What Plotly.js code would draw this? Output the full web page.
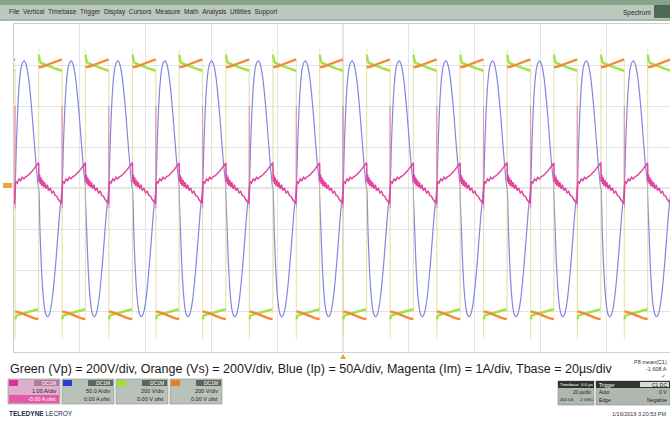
<!DOCTYPE html>
<html><head><meta charset="utf-8">
<script src="https://cdn.plot.ly/plotly-3.0.1.min.js"></script>
<style>html,body{margin:0;padding:0;background:#fff;}#chart{width:670px;height:427px;}</style>
</head><body><div id="chart"></div>
<script>
// ---- data read from the screen (time in µs) ----
// start of each switching cycle (rising edge of Vp/Vs)
const cycleStarts = [-106.8,-92.5,-78.3,-64.0,-49.8,-35.6,-21.3,-7.1,7.2,21.4,35.6,49.9,64.1,78.4,92.6];
const downEdge = 7.12;   // falling edge offset inside a cycle

// Blue: primary current Ip (A), one cycle
const ipT = [0,0.4,0.8,1.3,1.8,2.3,2.8,3.4,4.0,4.6,5.2,5.8,6.4,7.12,7.52,7.92,8.42,8.92,9.42,9.92,10.52,11.12,11.72,12.32,12.92,13.52,14.24];
const ipA = [0,-52,-94,-128,-147,-155,-157,-152,-139,-118,-91,-60,-29,0,52,94,128,146,153,155,150,137,116,89,58,28,0];

// Magenta: magnetising current Im (A), one cycle
const imT = [0,0.08,0.3,0.5,0.7,0.9,1.2,1.5,1.8,2.2,2.6,3.0,3.5,4.0,4.5,5.0,5.5,6.0,6.5,7.0,7.25,7.4,7.8,8.3,8.8,9.3,9.8,10.4,11.0,11.6,12.2,12.8,13.4,13.9,14.2];
const imA = [0.60,0.15,0.32,0.10,0.26,0.05,0.20,0.02,0.14,-0.02,0.08,-0.06,0.0,-0.12,-0.08,-0.18,-0.20,-0.28,-0.32,-0.38,0.10,0.16,0.12,0.22,0.18,0.26,0.22,0.28,0.30,0.34,0.40,0.46,0.52,0.58,0.61];
// switching spike on Im at the falling edge
const imSpikeT = [7.0,7.12,7.16,7.25];
const imSpikeA = [-0.38,2.0,-0.5,0.10];

// Green: primary voltage Vp (V), plateaus
const vpTopT = [0.05,0.3,0.7,1.5,2.5,3.5,4.5,5.5,6.5,7.07];
const vpTopV = [650,622,610,604,598,592,586,581,576,572];
const vpBotT = [7.17,7.4,7.8,8.6,9.6,10.6,11.6,12.6,13.6,14.19];
const vpBotV = [-640,-625,-620,-616,-612,-607,-602,-598,-594,-592];
// Orange: secondary voltage Vs (V), plateaus
const vsTopT = [0.05,0.7,1.5,2.5,3.5,4.5,5.5,6.5,7.07];
const vsTopV = [588,590,594,600,607,614,620,625,628];
const vsBotT = [7.17,7.8,8.6,9.6,10.6,11.6,12.6,13.6,14.19];
const vsBotV = [-602,-604,-608,-614,-621,-628,-634,-638,-640];
// switching edges: [from, overshoot] for rising and falling edges (V)
const vpRise = [-592,680], vpFall = [572,-740];
const vsRise = [-640,650], vsFall = [628,-720];

// ---- build traces from cycle data ----
function tile(tArr, vArr, gap){
  const x=[], y=[];
  cycleStarts.forEach(c=>{
    tArr.forEach((t,i)=>{ x.push(+(c+t).toFixed(3)); y.push(vArr[i]); });
    if(gap){ x.push(null); y.push(null); }
  });
  return {x,y};
}
function edges(rise, fall){
  const x=[], y=[];
  cycleStarts.forEach(c=>{
    x.push(c,c,null, c+downEdge,c+downEdge,null);
    y.push(rise[0],rise[1],null, fall[0],fall[1],null);
  });
  return {x,y};
}
const ip = tile(ipT, ipA, false);
const im = tile(imT, imA, false);
const imS = tile(imSpikeT, imSpikeA, true);
const vpT = tile(vpTopT, vpTopV, true), vpB = tile(vpBotT, vpBotV, true);
const vsT = tile(vsTopT, vsTopV, true), vsB = tile(vsBotT, vsBotV, true);
const vpE = edges(vpRise, vpFall), vsE = edges(vsRise, vsFall);

const GREEN='#a3e244', ORANGE='#f28a38', BLUE='#8286e2', MAG='#e2449e';
const traces = [
  {x:vpE.x,y:vpE.y,yaxis:'y2',mode:'lines',line:{color:'#cfe879',width:1},opacity:0.5,hoverinfo:'skip'},
  {x:vsE.x,y:vsE.y,yaxis:'y2',mode:'lines',line:{color:'#f6b27a',width:1},opacity:0.3,hoverinfo:'skip'},
  {x:ip.x,y:ip.y,yaxis:'y',mode:'lines',line:{color:BLUE,width:1.2,shape:'spline',smoothing:0.6}},
  {x:[...vpT.x,null,...vpB.x],y:[...vpT.y,null,...vpB.y],yaxis:'y2',mode:'lines',line:{color:GREEN,width:2.4}},
  {x:[...vsT.x,null,...vsB.x],y:[...vsT.y,null,...vsB.y],yaxis:'y2',mode:'lines',line:{color:ORANGE,width:2.4}},
  {x:imS.x,y:imS.y,yaxis:'y3',mode:'lines',line:{color:MAG,width:1},opacity:0.45},
  {x:im.x,y:im.y,yaxis:'y3',mode:'lines',line:{color:MAG,width:1.5}}
];

// ---- page furniture in pixel coordinates ----
const L=14, T=24, W=656, H=328;
const px=v=>(v-L)/W, py=v=>(T+H-v)/H;
const F='Liberation Sans, Arial, sans-serif';
function rect(x0,y0,x1,y1,fill,line){
  return {type:'rect',xref:'paper',yref:'paper',x0:px(x0),x1:px(x1),y0:py(y1),y1:py(y0),
    fillcolor:fill,line:{width:line?0.6:0,color:line||fill},layer:'above'};
}
function txt(x,y,s,size,color,anchor,extra){
  return Object.assign({xref:'paper',yref:'paper',x:px(x),y:py(y),text:s,showarrow:false,
    xanchor:anchor||'left',yanchor:'middle',borderpad:0,font:{family:F,size:size,color:color||'#222'}},extra||{});
}
const shapes=[
  {type:'line',xref:'x',yref:'paper',x0:0,x1:0,y0:0,y1:1,line:{color:'#cdcdcd',width:1},layer:'below'},
  {type:'line',xref:'paper',yref:'y',x0:0,x1:1,y0:0,y1:0,line:{color:'#cdcdcd',width:1},layer:'below'},
  rect(0,0,670,19,'#bcc8bc'), rect(0,0,670,5,'#87a48a'), rect(0,19,670,21,'#a9b3a9'),
  rect(654,5,670,18,'#4f6a52'),
  {type:'path',xref:'paper',yref:'paper',path:`M ${px(340)} ${py(359)} L ${px(346)} ${py(359)} L ${px(343)} ${py(354)} Z`,fillcolor:'#f0a030',line:{width:0}},
  rect(3,183,12,188,'#f0a040'),
];
const ann=[
  txt(8,12,'File&nbsp;&nbsp;Vertical&nbsp;&nbsp;Timebase&nbsp;&nbsp;Trigger&nbsp;&nbsp;Display&nbsp;&nbsp;Cursors&nbsp;&nbsp;Measure&nbsp;&nbsp;Math&nbsp;&nbsp;Analysis&nbsp;&nbsp;Utilities&nbsp;&nbsp;Support',6.5,'#2a2a2a'),
  txt(652,13,'Spectrum',6.5,'#2a2a2a','right'),
  txt(9,369,'Green (Vp) = 200V/div, Orange (Vs) = 200V/div, Blue (Ip) = 50A/div, Magenta (Im) = 1A/div, Tbase = 20µs/div',12.5,'#1a1a1a'),
  txt(668,362,'P8 mean(C1)',5.5,'#333','right'),
  txt(668,369,'-1.608 A',5.5,'#333','right'),
  txt(667,376,'✓',6,'#3a9a3a','right'),
  txt(8,413,'<b>TELEDYNE</b> LECROY',6.5,'#1b2a4a'),
  txt(668,414,'1/16/2019 3:20:53 PM',5.5,'#333','right'),
];
// channel descriptor boxes
const chTags=['#e0309a','#2a3bd0','#9ee030','#f07a20'];
const chScale=['1.00 A/div','50.0 A/div','200 V/div','200 V/div'];
const chOfst=['-0.00 A ofst','0.00 A ofst','0.00 V ofst','0.00 V ofst'];
chTags.forEach((c,i)=>{
  const x0=8+i*54, x1=x0+52;
  shapes.push(rect(x0,379,x1,404,i===0?'#dcb0cc':'#b9c2b9','#8a948a'));
  shapes.push(rect(x0+1,380,x0+10,386,c));
  shapes.push(rect(x0+26,380,x1-1,386,i===0?'#b07a9a':'#5d665d'));
  if(i===0) shapes.push(rect(x0+1,395,x1-1,403,'#e45aa8'));
  ann.push(txt(x1-3,383,'DC1M',5,'#fff','right'));
  ann.push(txt(x1-3,391,chScale[i],5.5,'#222','right'));
  ann.push(txt(x1-3,399,chOfst[i],5.5,i===0?'#fff':'#222','right'));
});
// timebase / trigger boxes
shapes.push(rect(558,381,594,405,'#aeb8ae','#7f8a7f'));
shapes.push(rect(558,381,594,388,'#2f342f'));
shapes.push(rect(596,381,670,405,'#aeb8ae','#7f8a7f'));
shapes.push(rect(596,381,670,388,'#2f342f'));
shapes.push(rect(640,382,669,387,'#d8ddd8'));
ann.push(txt(559,384.5,'Timebase',4.3,'#fff'));
ann.push(txt(593.5,384.5,'0.0 µs',4.3,'#fff','right'));
ann.push(txt(593,392,'20 µs/div',4.5,'#222','right'));
ann.push(txt(559,399.5,'400 kS',4.3,'#222'));
ann.push(txt(593.5,399.5,'2 GS/s',4.3,'#222','right'));
ann.push(txt(598,384.5,'Trigger',5,'#fff'));
ann.push(txt(668,384.5,'C1 DC',5,'#222','right'));
ann.push(txt(598,392,'Auto',5,'#222'));
ann.push(txt(668,392,'0 V',5,'#222','right'));
ann.push(txt(598,399.5,'Edge',5,'#222'));
ann.push(txt(668,399.5,'Negative',5,'#222','right'));

const ax={showgrid:true,gridcolor:'#e4e4e4',gridwidth:1,zeroline:false,showticklabels:false,ticks:'',
  showline:true,linecolor:'#cfcfcf',mirror:true,fixedrange:true};
const layout={
  width:670,height:427,margin:{l:L,r:0,t:T,b:427-T-H,pad:0},
  paper_bgcolor:'#ffffff',plot_bgcolor:'#ffffff',showlegend:false,
  xaxis:Object.assign({},ax,{range:[-100,99.4],dtick:20,tick0:-100}),
  yaxis:Object.assign({},ax,{range:[-200,200],dtick:50,tick0:0}),
  yaxis2:{overlaying:'y',range:[-800,800],visible:false,fixedrange:true},
  yaxis3:{overlaying:'y',range:[-4,4],visible:false,fixedrange:true},
  shapes:shapes,annotations:ann
};
Plotly.newPlot('chart',traces,layout,{displayModeBar:false,staticPlot:true});
</script></body></html>
